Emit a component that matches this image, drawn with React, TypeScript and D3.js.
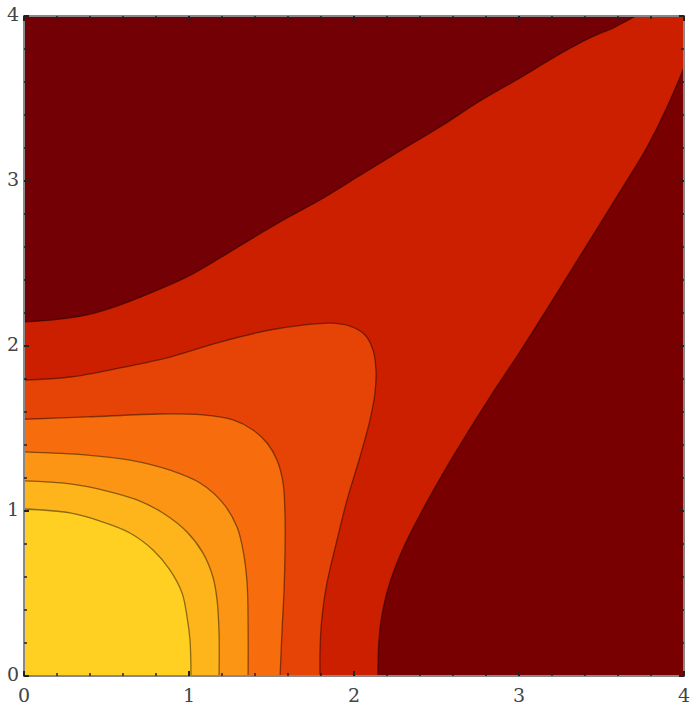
import React from 'react';
import * as d3 from 'd3';

// contour lines, [x, y] in data units
const level1: [number, number][] = [
  [0, 1.012], [0.279, 0.988], [0.479, 0.933], [0.642, 0.867], [0.782, 0.764], [0.885, 0.642],
  [0.958, 0.503], [0.988, 0.358], [1.006, 0.218], [1.012, 0],
];
const level2: [number, number][] = [
  [0, 1.182], [0.279, 1.164], [0.503, 1.121], [0.685, 1.067], [0.842, 0.988], [0.988, 0.873],
  [1.085, 0.745], [1.145, 0.6], [1.17, 0.461], [1.182, 0.261], [1.182, 0],
];
const level3: [number, number][] = [
  [0, 1.358], [0.382, 1.339], [0.642, 1.309], [0.885, 1.248], [1.067, 1.17], [1.206, 1.048],
  [1.291, 0.903], [1.327, 0.764], [1.352, 0.564], [1.358, 0.297], [1.358, 0],
];
const level4: [number, number][] = [
  [0, 1.556], [0.382, 1.57], [0.824, 1.588], [1.085, 1.582], [1.267, 1.552], [1.388, 1.491],
  [1.473, 1.412], [1.533, 1.309], [1.57, 1.17], [1.582, 0.964], [1.582, 0.764], [1.576, 0.521],
  [1.564, 0.279], [1.552, 0],
];
const level5: [number, number][] = [
  [0, 1.794], [0.279, 1.812], [0.582, 1.867], [0.885, 1.933], [1.188, 2.024], [1.491, 2.097],
  [1.691, 2.127], [1.855, 2.139], [1.976, 2.121], [2.067, 2.067], [2.115, 1.976], [2.133, 1.855],
  [2.127, 1.715], [2.097, 1.552], [2.036, 1.327], [1.958, 1.067], [1.897, 0.824], [1.836, 0.564],
  [1.806, 0.358], [1.794, 0.158], [1.794, 0],
];
const upperDark: [number, number][] = [
  [0, 2.145], [0.176, 2.158], [0.382, 2.188], [0.582, 2.248], [0.782, 2.327], [0.988, 2.418],
  [1.188, 2.533], [1.388, 2.655], [1.594, 2.776], [1.794, 2.885], [2.036, 3.033], [2.279, 3.182],
  [2.521, 3.327], [2.764, 3.485], [3.006, 3.624], [3.248, 3.77], [3.43, 3.867], [3.57, 3.927],
  [3.709, 4],
];
const lowerDark: [number, number][] = [
  [2.145, 0], [2.148, 0.17], [2.164, 0.339], [2.2, 0.509], [2.255, 0.673], [2.327, 0.836],
  [2.412, 1.0], [2.503, 1.164], [2.594, 1.321], [2.824, 1.691], [3.024, 1.994], [3.23, 2.321],
  [3.43, 2.642], [3.63, 2.964], [3.776, 3.206], [3.897, 3.448], [3.976, 3.63], [4, 3.691],
];

const ticks = [0, 1, 2, 3, 4];
const minorTicks = d3.range(0, 4.01, 0.2);

const W = 700;
const H = 713;
const left = 24, right = 684, top = 16, bottom = 676;

export default function App() {
  const x = d3.scaleLinear().domain([0, 4]).range([left, right]);
  const y = d3.scaleLinear().domain([0, 4]).range([bottom, top]);

  const curve = d3.line<[number, number]>()
    .x(d => x(d[0]))
    .y(d => y(d[1]))
    .curve(d3.curveCatmullRom.alpha(0.5));

  // region below a contour: contour path closed through the origin
  const inner = (pts: [number, number][]) => `${curve(pts)}L${x(0)},${y(0)}Z`;

  const regions = [
    { pts: level5, fill: '#e64306' },
    { pts: level4, fill: '#f76c0c' },
    { pts: level3, fill: '#fc9514' },
    { pts: level2, fill: '#feb41b' },
    { pts: level1, fill: '#ffd022' },
  ];

  const lines = [upperDark, lowerDark, level5, level4, level3, level2, level1];

  return (
    <svg width={W} height={H} style={{ position: 'absolute', left: 0, top: 0, background: '#fff' }}>
      <rect x={left} y={top} width={right - left} height={bottom - top} fill="#cc1f00" />
      <path d={`${curve(upperDark)}L${x(0)},${y(4)}Z`} fill="#730004" />
      <path d={`${curve(lowerDark)}L${x(4)},${y(0)}Z`} fill="#780000" />
      {regions.map((r, i) => (
        <path key={i} d={inner(r.pts)} fill={r.fill} />
      ))}
      {lines.map((l, i) => (
        <path key={i} d={curve(l) || ''} fill="none" stroke="#000" strokeOpacity={0.45} strokeWidth={1.3} />
      ))}

      {/* frame */}
      <rect x={left} y={top} width={right - left} height={bottom - top} fill="none" stroke="#888" strokeWidth={2} />

      {/* ticks, pointing inwards */}
      {minorTicks.map((t, i) => {
        const major = Math.abs(t - Math.round(t)) < 1e-6;
        const len = major ? 5 : 3;
        return (
          <g key={i} stroke="#222" strokeWidth={major ? 2 : 1.5}>
            <line x1={x(t)} x2={x(t)} y1={bottom} y2={bottom - len} />
            <line x1={x(t)} x2={x(t)} y1={top} y2={top + len} />
            <line x1={left} x2={left + len} y1={y(t)} y2={y(t)} />
            <line x1={right} x2={right - len} y1={y(t)} y2={y(t)} />
          </g>
        );
      })}

      <g fontFamily="'DejaVu Serif', serif" fontSize={19} fill="#444">
        {ticks.map(t => (
          <text key={'x' + t} x={x(t)} y={bottom + 21} textAnchor="middle" dominantBaseline="middle">{t}</text>
        ))}
        {ticks.map(t => (
          <text key={'y' + t} x={left - 5} y={y(t)} textAnchor="end" dominantBaseline="middle">{t}</text>
        ))}
      </g>
    </svg>
  );
}
